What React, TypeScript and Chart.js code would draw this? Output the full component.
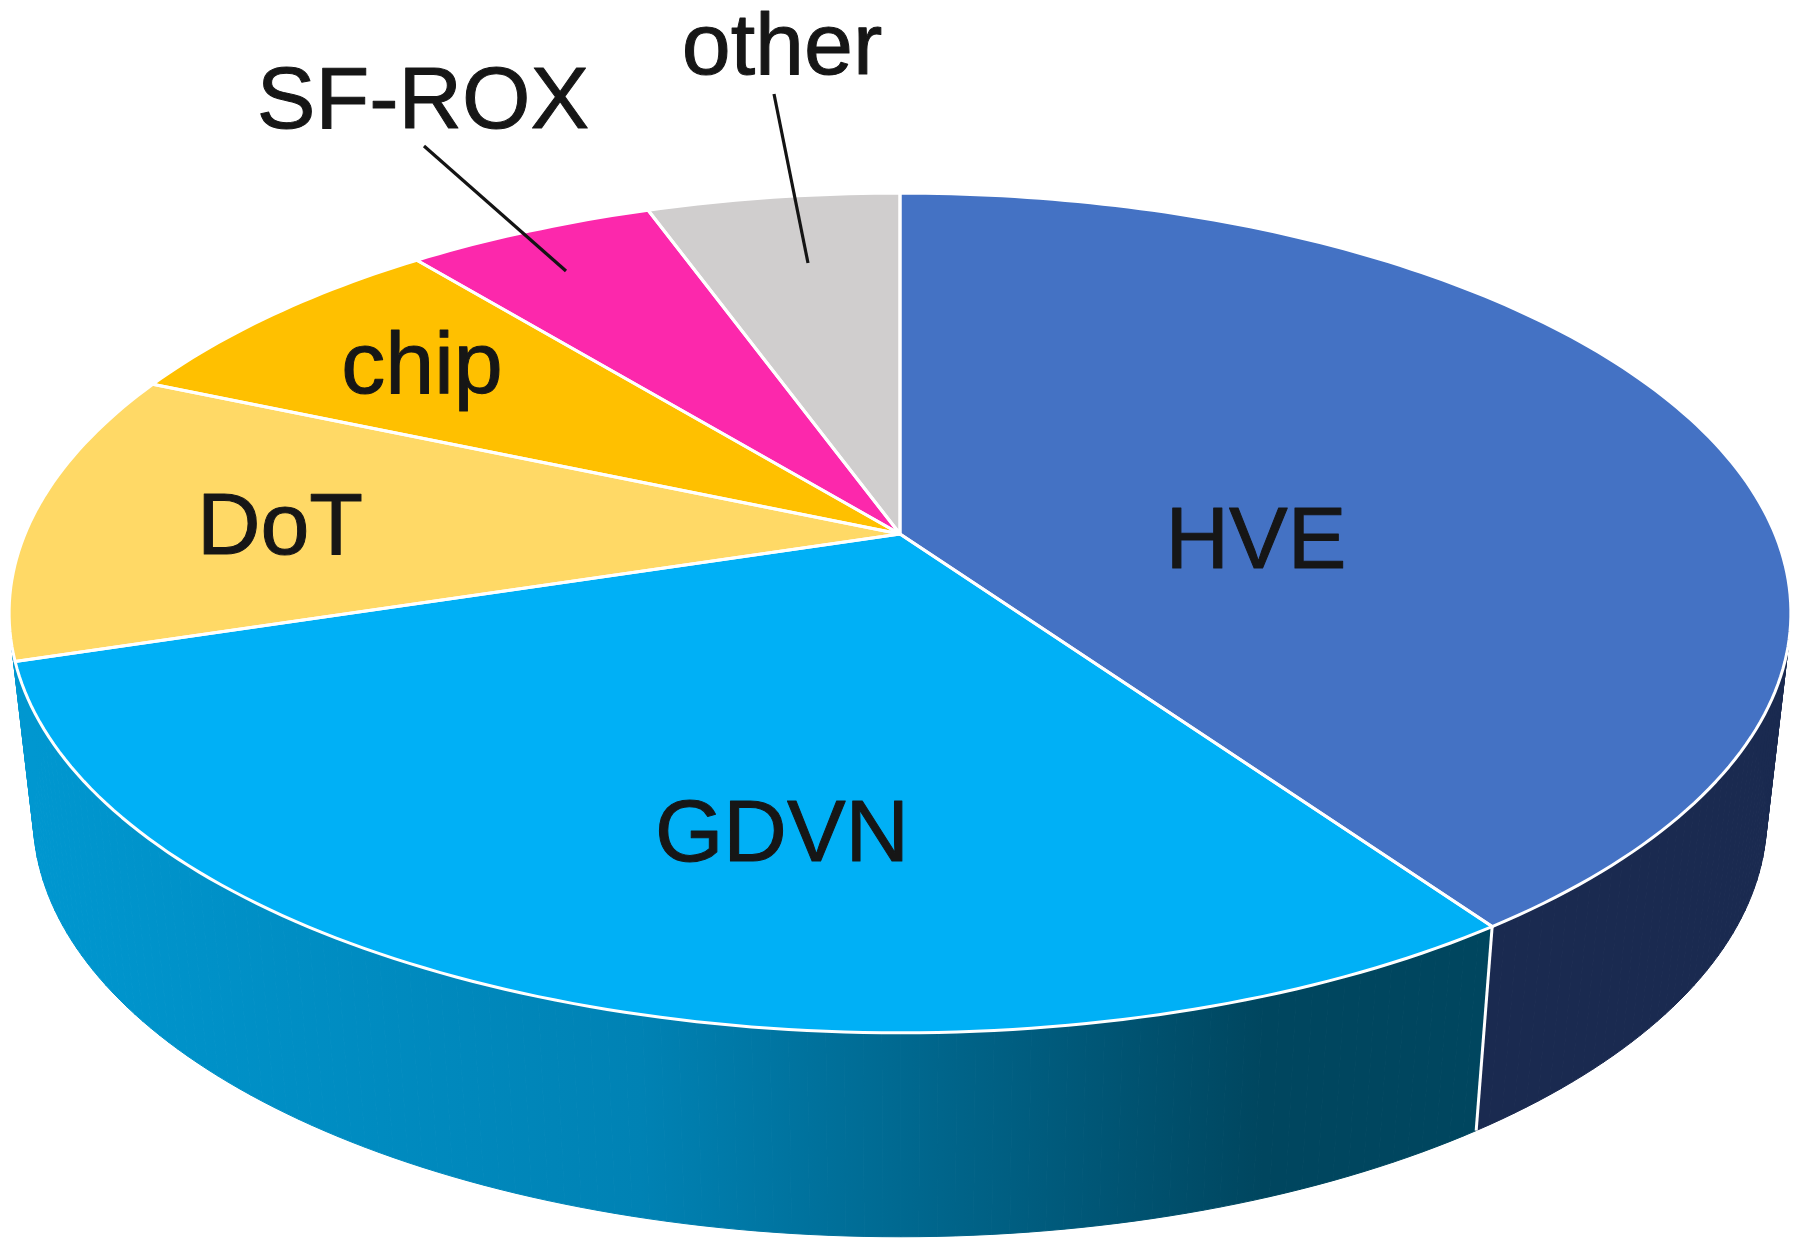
import React, { useEffect, useRef } from "react";
import { Chart, registerables } from "chart.js";

Chart.register(...registerables);

const categories = ["HVE", "GDVN", "DoT", "chip", "SF-ROX", "other"];
const shares = [40.3, 29.9, 11.3, 7.6, 5.4, 5.5];
const topColors = ["#4472C4", "#00B0F6", "#FFD966", "#FFC000", "#FC28AC", "#D0CECE"];
const wallDark = "#1A2A50";
const wallStops: [number, string][] = [
  [0, "#0097D0"],
  [0.42, "#0082B4"],
  [0.85, "#00465F"],
  [1, "#00465F"],
];

// Perspective view of the disc
const view = { cx: 900, cy: 534, a: 875, b: 405, k: -0.188 };
const base = { cy: 738, sx: 0.973, sy: 1.0 };

// Label placement, kept apart from the values
const labelCentres = [
  [1256, 544],
  [782, 837],
  [280, 530],
  [422, 369],
  [423, 104],
  [782, 50],
];
const leaders = [
  [424, 146, 566, 271],
  [774, 94, 808, 263],
];

function project(alpha: number): [number, number] {
  const u = Math.cos(alpha);
  const v = Math.sin(alpha);
  const d = 1 + view.k * v;
  return [(view.a * u) / d, (view.b * v) / d];
}

function topPoint(alpha: number): [number, number] {
  const [x, y] = project(alpha);
  return [view.cx + x, view.cy + y];
}

function basePoint(alpha: number): [number, number] {
  const [x, y] = project(alpha);
  return [view.cx + base.sx * x, base.cy + base.sy * y];
}

function arcPoints(start: number, end: number, fn: (a: number) => [number, number]) {
  const steps = Math.max(2, Math.ceil(Math.abs(end - start) / (Math.PI / 180)));
  const pts: [number, number][] = [];
  for (let i = 0; i <= steps; i++) pts.push(fn(start + ((end - start) * i) / steps));
  return pts;
}

const perspectivePie = {
  id: "perspectivePie",
  beforeDatasetDraw(chart: any) {
    const ctx: CanvasRenderingContext2D = chart.ctx;
    const arcs = chart.getDatasetMeta(0).data as any[];
    ctx.save();
    ctx.lineJoin = "round";

    const grad = ctx.createLinearGradient(33, 0, 1480, 0);
    wallStops.forEach(([o, c]) => grad.addColorStop(o, c));

    // side walls: swept quad by quad so the silhouette edges come out straight
    arcs.forEach((arc, i) => {
      const top = arcPoints(arc.startAngle, arc.endAngle, topPoint);
      const bot = arcPoints(arc.startAngle, arc.endAngle, basePoint);
      const paint = i === 0 ? wallDark : grad;
      ctx.fillStyle = paint;
      ctx.strokeStyle = paint;
      ctx.lineWidth = 1;
      for (let n = 0; n < top.length - 1; n++) {
        ctx.beginPath();
        ctx.moveTo(top[n][0], top[n][1]);
        ctx.lineTo(top[n + 1][0], top[n + 1][1]);
        ctx.lineTo(bot[n + 1][0], bot[n + 1][1]);
        ctx.lineTo(bot[n][0], bot[n][1]);
        ctx.closePath();
        ctx.fill();
        ctx.stroke();
      }
    });

    // edge between the two visible walls
    const seam = arcs[0].endAngle;
    const [sx0, sy0] = topPoint(seam);
    const [sx1, sy1] = basePoint(seam);
    ctx.beginPath();
    ctx.moveTo(sx0, sy0);
    ctx.lineTo(sx1, sy1);
    ctx.strokeStyle = "#FFFFFF";
    ctx.lineWidth = 3;
    ctx.stroke();

    // top faces
    const outline = (arc: any) => {
      ctx.beginPath();
      ctx.moveTo(view.cx, view.cy);
      arcPoints(arc.startAngle, arc.endAngle, topPoint).forEach(([x, y]) => ctx.lineTo(x, y));
      ctx.closePath();
    };
    arcs.forEach((arc, i) => {
      outline(arc);
      ctx.fillStyle = topColors[i];
      ctx.fill();
    });
    arcs.forEach((arc) => {
      outline(arc);
      ctx.strokeStyle = "#FFFFFF";
      ctx.lineWidth = 3;
      ctx.stroke();
    });

    // leader lines
    ctx.strokeStyle = "#141414";
    ctx.lineWidth = 3.2;
    ctx.lineCap = "butt";
    leaders.forEach(([x0, y0, x1, y1]) => {
      ctx.beginPath();
      ctx.moveTo(x0, y0);
      ctx.lineTo(x1, y1);
      ctx.stroke();
    });

    // labels
    ctx.fillStyle = "#161616";
    ctx.strokeStyle = "#161616";
    ctx.lineWidth = 1;
    ctx.font = '88px "Liberation Sans"';
    ctx.textAlign = "center";
    ctx.textBaseline = "middle";
    categories.forEach((c, i) => {
      ctx.fillText(c, labelCentres[i][0], labelCentres[i][1]);
      ctx.strokeText(c, labelCentres[i][0], labelCentres[i][1]);
    });
    ctx.restore();
    return false;
  },
};

export default function App() {
  const ref = useRef<HTMLCanvasElement>(null);
  useEffect(() => {
    document.body.style.margin = "0";
    const chart = new Chart(ref.current!, {
      type: "pie",
      data: {
        labels: categories,
        datasets: [{ data: shares, backgroundColor: topColors, borderColor: "#FFFFFF", borderWidth: 3 }],
      },
      options: {
        responsive: false,
        animation: false,
        plugins: { legend: { display: false }, tooltip: { enabled: false } },
      },
      plugins: [perspectivePie],
    } as any);
    return () => chart.destroy();
  }, []);
  return <canvas ref={ref} width={1800} height={1248} style={{ display: "block" }} />;
}
